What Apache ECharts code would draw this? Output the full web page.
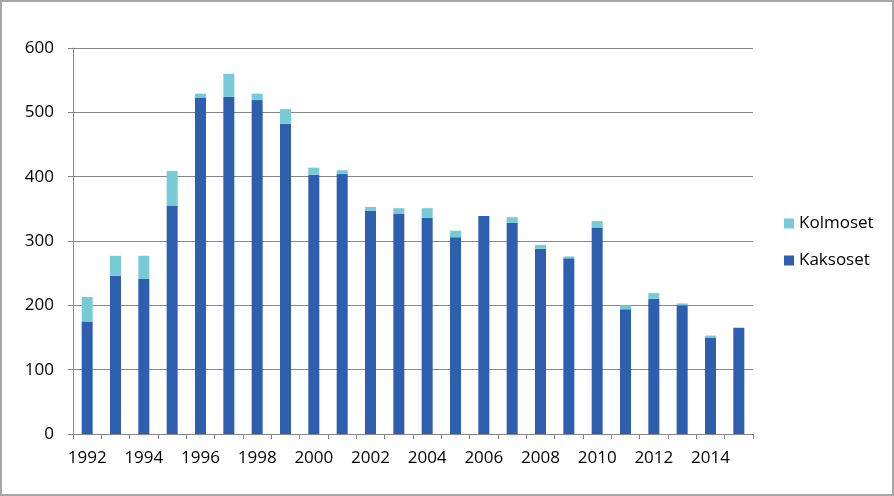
<!DOCTYPE html>
<html>
<head>
<meta charset="utf-8">
<script src="https://cdn.jsdelivr.net/npm/echarts@6/dist/echarts.min.js"></script>
<style>
html,body{margin:0;padding:0;background:#fff;}
#frame{width:894px;height:496px;box-sizing:border-box;border:2px solid #a6a6a6;background:#fff;}
#chart{width:890px;height:492px;}
</style>
</head>
<body>
<div id="frame"><div id="chart"></div></div>
<script>
const years = ['1992','1993','1994','1995','1996','1997','1998','1999','2000','2001','2002','2003','2004','2005','2006','2007','2008','2009','2010','2011','2012','2013','2014','2015'];
const kaksoset = [175,246,241,355,523,524,519,482,403,404,347,342,336,306,339,328,288,273,321,194,210,200,150,165];
const kolmoset = [38,31,36,54,6,36,10,23,11,6,6,9,15,10,0,9,6,3,10,6,9,3,3,0];
const yTicks = [0,100,200,300,400,500,600];

const chart = echarts.init(document.getElementById('chart'));
const font = 'Open Sans, Liberation Sans, sans-serif';
chart.setOption({
  animation: false,
  grid: {left: 71, right: 139, top: 46, bottom: 60},
  legend: {
    orient: 'vertical',
    left: 777, top: 208,
    itemWidth: 10, itemHeight: 10, itemGap: 20,
    icon: 'rect',
    data: ['Kolmoset', 'Kaksoset'],
    textStyle: {fontFamily: font, fontSize: 17, color: '#000'}
  },
  xAxis: {
    type: 'category',
    data: years,
    axisLine: {lineStyle: {color: '#868686'}},
    axisTick: {show: true, alignWithLabel: false, length: 5, interval: 0, lineStyle: {color: '#868686'}},
    axisLabel: {interval: 1, fontFamily: font, fontSize: 17, color: '#000', margin: 16}
  },
  yAxis: {
    type: 'value',
    min: yTicks[0], max: yTicks[yTicks.length-1], interval: 100,
    axisLine: {show: true, lineStyle: {color: '#868686'}},
    axisTick: {show: true, length: 5, lineStyle: {color: '#868686'}},
    splitLine: {lineStyle: {color: '#868686', width: 1}},
    axisLabel: {fontFamily: font, fontSize: 17, color: '#000', margin: 19}
  },
  series: [
    {name: 'Kaksoset', type: 'bar', stack: 'all', data: kaksoset, barWidth: 11,
     itemStyle: {color: '#2e5fae'}},
    {name: 'Kolmoset', type: 'bar', stack: 'all', data: kolmoset, barWidth: 11,
     itemStyle: {color: '#77cbd6'}}
  ]
});
</script>
</body>
</html>
